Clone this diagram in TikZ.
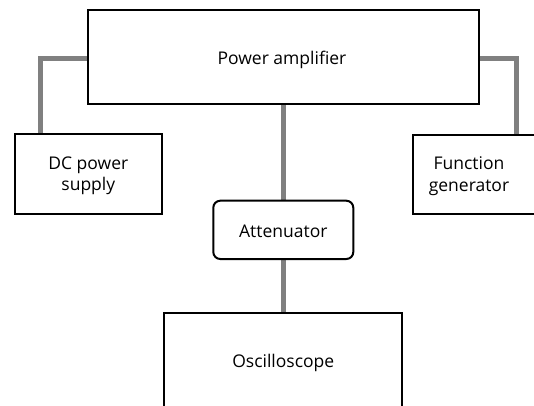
\documentclass[tikz,border=0pt]{standalone}
\usepackage{fontspec}
\setmainfont{Open Sans}
\begin{document}
\begin{tikzpicture}[x=1pt,y=-1pt,
  blk/.style={draw=black,line width=2pt,fill=white,inner sep=0pt},
  wire/.style={draw=black!50,line width=5pt},
  lbl/.style={font=\fontsize{17.5}{21.5}\selectfont,align=center,inner sep=0pt}]
\useasboundingbox (0,0) rectangle (534,405);
\clip (0,0) rectangle (534,405);
% wires
\coordinate (lc) at (40.7,58);
\coordinate (rc) at (516.7,58);
\draw[wire] (88,58) -- (lc) -- (40.7,134);
\draw[wire] (479,58) -- (rc) -- (516.7,134.7);
\draw[wire] (283.3,104) -- (283.3,201);
\draw[wire] (283.3,259) -- (283.3,313.3);
% boxes
\draw[blk] (88,10) rectangle (479,104);
\node[lbl] (pa) at (282,59.5) {Power amplifier};
\draw[blk] (14.7,134) rectangle (162,214);
\node[lbl] (dc) at (88.3,176) {DC power\\supply};
\draw[blk] (412.7,134.7) rectangle (545,214);
\node[lbl] (fg) at (469,176) {Function\\generator};
\draw[blk,rounded corners=7pt] (213.3,200.7) rectangle (353.3,259);
\node[lbl] (at) at (283.3,231) {Attenuator};
\draw[blk] (164,313.3) rectangle (402.3,420);
\node[lbl] (os) at (283.3,362.5) {Oscilloscope};
\end{tikzpicture}
\end{document}
